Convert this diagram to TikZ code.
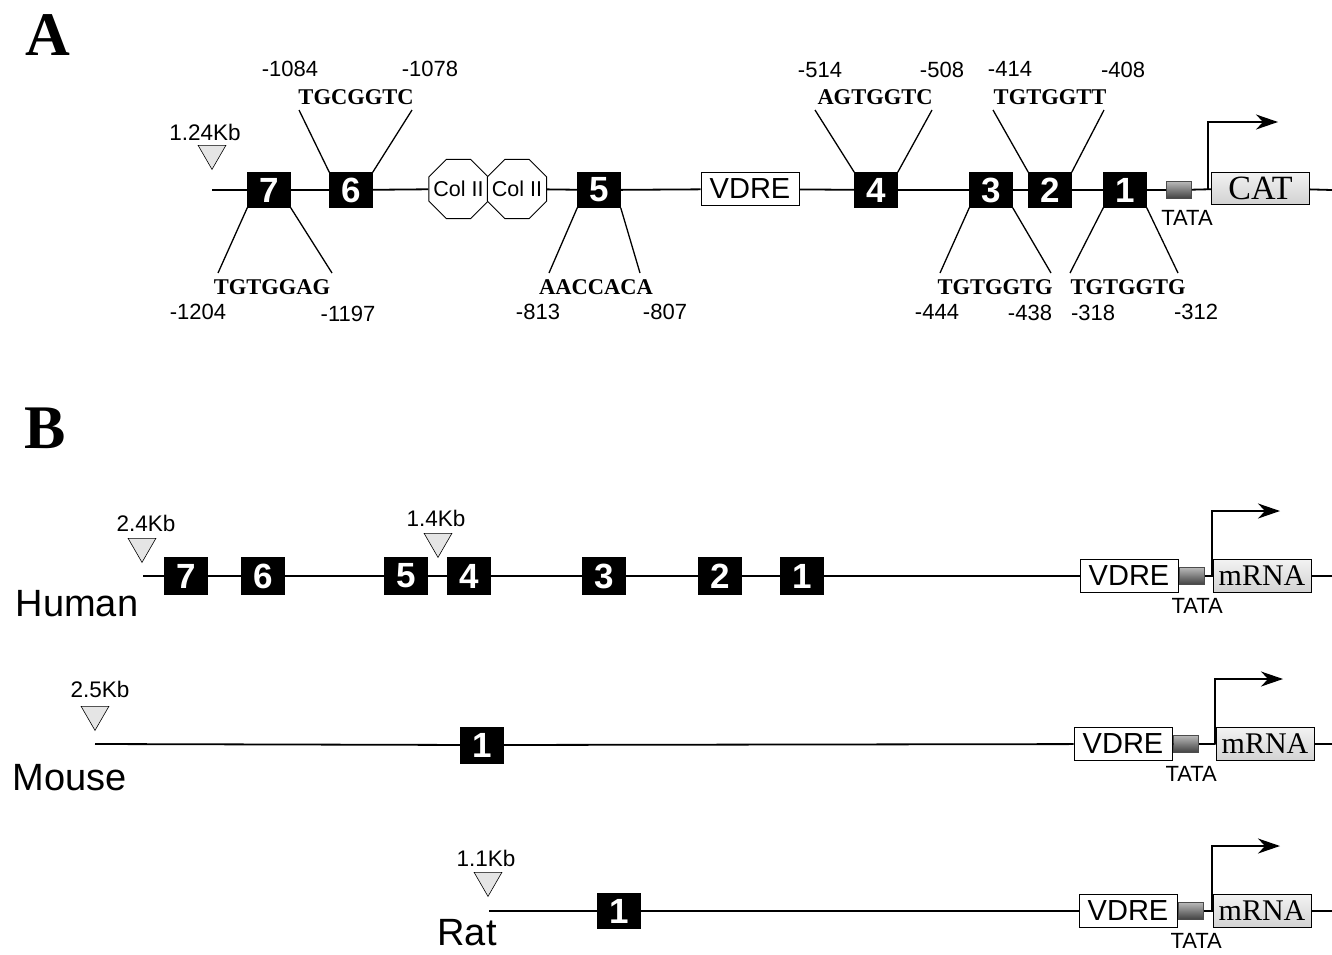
\documentclass[tikz,border=0pt]{standalone}
\usepackage{fontspec}
\setmainfont{Liberation Serif}
\setsansfont{Liberation Sans}
\usetikzlibrary{shapes.geometric,arrows.meta,positioning}

\begin{document}
\begin{tikzpicture}[x=1pt,y=-1pt,
  dna/.style={line width=1.8pt},
  lead/.style={line width=1.3pt},
  site/.style={draw,fill=black,text=white,minimum width=43pt,minimum height=35pt,inner sep=0pt,font=\sffamily\bfseries\fontsize{35}{35}\selectfont},
  vdre/.style={draw,fill=white,line width=0.8pt,minimum width=98pt,minimum height=33pt,inner sep=0pt,font=\sffamily\fontsize{29}{29}\selectfont},
  tata/.style={draw=black!70,line width=0.6pt,top color=gray!55,bottom color=black!75,minimum width=25pt,minimum height=17pt,inner sep=0pt},
  gene/.style={draw,line width=0.8pt,top color=gray!10,bottom color=gray!35,minimum width=98pt,minimum height=33pt,inner sep=0pt,font=\fontsize{30}{30}\selectfont},
  colii/.style={draw,fill=white,line width=0.9pt,regular polygon,regular polygon sides=8,minimum size=64pt,inner sep=0pt},
  coltxt/.style={font=\sffamily\fontsize{21.5}{21.5}\selectfont,inner sep=0pt},
  kb/.style={draw,line width=0.6pt,fill=gray!20,regular polygon,regular polygon sides=3,shape border rotate=180,minimum size=32pt,inner sep=0pt},
  kbtxt/.style={font=\sffamily\fontsize{22.5}{22.5}\selectfont,inner sep=0pt},
  numtxt/.style={font=\sffamily\fontsize{22}{22}\selectfont,inner sep=0pt},
  seq/.style={font=\bfseries\fontsize{22.5}{22.5}\selectfont,inner sep=0pt},
  lbl/.style={font=\sffamily\fontsize{22}{22}\selectfont,inner sep=0pt},
  species/.style={font=\sffamily\fontsize{38}{38}\selectfont,inner sep=0pt},
  panel/.style={font=\bfseries\fontsize{62}{62}\selectfont,inner sep=0pt},
  tss/.style={line width=1.8pt,-{Stealth[length=22pt,width=15pt,inset=7pt]}}
]
\useasboundingbox (0,0) rectangle (1332,954);

% Paneles
\node[panel] (pA) at (48,35) {A};
\node[panel] (pB) at (45,428) {B};

% A: sitios 1-7
\foreach \n/\x in {7/269, 6/351, 5/599, 4/876, 3/991, 2/1050, 1/1125}
  \node[site] (b\n) at (\x,190) {\n};

% A: Col II, VDRE, TATA, CAT
\node[colii] (c1) at (458.5,189) {};
\node[colii] (c2) at (517,189) {};
\node[coltxt] (c1t) at (c1) {Col II};
\node[coltxt] (c2t) at (c2) {Col II};
\node[vdre] (vdreA) at (750,189) {VDRE};
\node[tata] (tataA) at (1179,190) {};
\node[lbl] (tatalA) at (1187,218) {TATA};
\node[gene,minimum height=32pt,font=\fontsize{34}{34}\selectfont] (cat) at (1260.5,188) {CAT};

% A: inicio 1.24Kb
\node[kb,anchor=south] (t1) at (212,170) {};
\node[kbtxt,above=4pt of t1,xshift=-7pt] (k1) {1.24Kb};
\coordinate (sA) at (212,190);
\coordinate (eA) at (1332,190);

% A: linea
\draw[dna] (sA) -- (b7) -- (b6) -- (c1);
\draw[dna] (c2) -- (b5) -- (vdreA) -- (b4) -- (b3) -- (b2) -- (b1) -- (tataA) -- (cat) -- (eA);

% A: inicio de transcripcion
\coordinate (tssA) at (1208,190);
\coordinate (tipA) at (1278,122);
\draw[tss] (tssA) |- (tipA);

% A: secuencias
\foreach \x/\y/\s in {356/97/TGCGGTC, 875/97/AGTGGTC, 1050/97/TGTGGTT,
    272/287/TGTGGAG, 596/287/AACCACA, 995/287/TGTGGTG, 1128/287/TGTGGTG}
  \node[seq] (seq\x) at (\x,\y) {\s};

% A: posiciones
\foreach \x/\y/\p in {290/69/-1084, 430/69/-1078, 820/70/-514, 942/70/-508,
    1010/69/-414, 1123/70/-408, 198/312/-1204, 348/314/-1197, 538/312/-813,
    665/312/-807, 937/312/-444, 1030/313/-438, 1093/313/-318, 1196/312/-312}
  \node[numtxt] (num\x) at (\x,\y) {\p};

% A: lineas guia
\foreach \b/\xl/\xr in {b6/299/412, b4/815/932, b2/993/1104}{
  \coordinate (\b-l) at (\xl,110);
  \coordinate (\b-r) at (\xr,110);
  \draw[lead] (\b.north west) -- (\b-l) (\b.north east) -- (\b-r);
}
\foreach \b/\xl/\xr in {b7/218/332, b5/549/640, b3/940/1051, b1/1070/1178}{
  \coordinate (\b-l) at (\xl,273);
  \coordinate (\b-r) at (\xr,273);
  \draw[lead] (\b.south west) -- (\b-l) (\b.south east) -- (\b-r);
}

% B: humano
\foreach \n/\x in {7/186, 6/263, 5/406, 4/469, 3/604, 2/720, 1/802}
  \node[site,minimum height=37pt] (h\n) at (\x,576) {\n};
\node[kb,anchor=south] (th1) at (142,563) {};
\node[kbtxt,above=6pt of th1,xshift=4pt] (kh1) {2.4Kb};
\node[kb,anchor=south] (th2) at (438,558) {};
\node[kbtxt,above=6pt of th2,xshift=-2pt] (kh2) {1.4Kb};
\node[species] (human) at (77,604) {Human};

% B: raton
\node[site,minimum height=36pt] (m1) at (482,745) {1};
\node[kb,anchor=south] (tm) at (95,731) {};
\node[kbtxt,above=8pt of tm,xshift=5pt] (km) {2.5Kb};
\node[species] (mouse) at (70,778) {Mouse};

% B: rata
\node[site] (r1) at (619,911) {1};
\node[kb,anchor=south] (tr) at (488,897) {};
\node[kbtxt,above=5pt of tr,xshift=-2pt] (kr) {1.1Kb};
\node[species] (rat) at (467,933) {Rat};

% B: promotores
\foreach \r/\y/\xv/\xa in {h/576/1129/1212, m/744/1123/1215, r/911/1128/1212}{
  \node[vdre] (vdre\r) at (\xv,\y) {VDRE};
  \node[tata,right=1pt of vdre\r] (tata\r) {};
  \node[lbl,below=13pt of tata\r,xshift=5pt] (tl\r) {TATA};
  \node[gene] (gene\r) at (\xa+50,\y) {mRNA};
  \coordinate (tss\r) at (\xa,\y);
  \coordinate (tip\r) at (\xa+68,\y-65);
  \coordinate (e\r) at (1332,\y);
  \draw[tss] (tss\r) |- (tip\r);
}

% B: lineas
\coordinate (sh) at (143,576);
\coordinate (sm) at (95,744);
\coordinate (sr) at (489,911);
\draw[dna] (sh) -- (h7) -- (h6) -- (h5) -- (h4) -- (h3) -- (h2) -- (h1) -- (vdreh) -- (tatah) -- (geneh) -- (eh);
\draw[dna] (sm) -- (m1) -- (vdrem) -- (tatam) -- (genem) -- (em);
\draw[dna] (sr) -- (r1) -- (vdrer) -- (tatar) -- (gener) -- (er);

\end{tikzpicture}
\end{document}
